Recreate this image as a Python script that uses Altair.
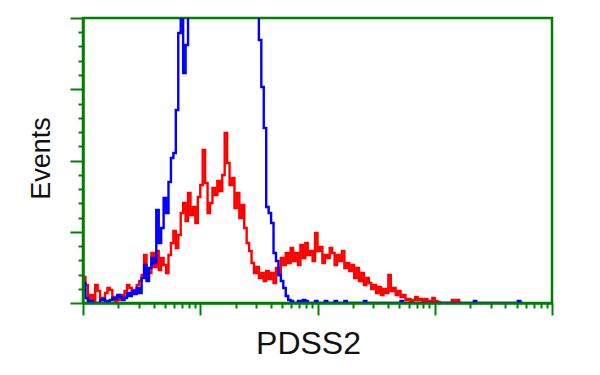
import altair as alt
import numpy as np
import pandas as pd

# Histogram: 192 channels spread over 4 log decades (1 .. 10^4)
N_BINS = 192
DECADES = 4
Y_MAX = 285

# Event counts per channel (stained sample, red)
red_counts = [
    26, 18, 4, 8, 0, 18, 12, 5, 3, 10,
    15, 13, 6, 2, 3, 8, 5, 12, 18, 15,
    13, 10, 18, 22, 28, 48, 25, 30, 50, 36,
    52, 33, 45, 38, 30, 48, 60, 72, 55, 68,
    90, 100, 82, 110, 88, 96, 80, 106, 118, 153,
    120, 90, 100, 115, 108, 122, 112, 128, 170, 140,
    118, 125, 95, 110, 85, 98, 75, 60, 52, 40,
    30, 36, 25, 30, 22, 32, 24, 30, 20, 35,
    28, 45, 38, 50, 40, 55, 42, 50, 38, 58,
    45, 60, 48, 52, 42, 70, 52, 56, 40, 48,
    45, 55, 50, 38, 48, 42, 52, 35, 40, 32,
    38, 25, 35, 22, 30, 18, 25, 20, 14, 18,
    10, 16, 8, 14, 10, 28, 12, 15, 8, 12,
    6, 8, 3, 4, 2, 3, 6, 3, 4, 2,
    4, 0, 2, 5, 2, 1, 0, 0, 0, 0,
    0, 3, 0, 3, 0,
]

# Event counts per channel (control, blue); the main peak runs off the top
blue_counts = [
    20, 5, 0, 2, 0, 0, 0, 3, 4, 2,
    0, 3, 5, 4, 8, 6, 3, 5, 10, 7,
    12, 9, 15, 10, 25, 38, 22, 35, 45, 40,
    93, 60, 75, 105, 90, 121, 145, 150, 193, 270,
    300, 230, 258, 330, 380, 430, 480, 530, 580, 620,
    660, 690, 710, 720, 725, 720, 710, 690, 665, 635,
    600, 560, 520, 480, 440, 400, 370, 345, 325, 310,
    300, 292, 263, 216, 175, 96, 90, 80, 50, 42,
    28, 22, 15, 7, 3, 2, 0, 0, 2, 0,
    3, 2, 0, 0, 0, 2, 0, 0, 0, 2,
    0, 0, 0, 2, 0, 0, 0, 2, 0, 0,
    0, 0, 0, 0, 0, 2, 0, 0, 0, 0,
    0, 0, 0, 0, 0, 0, 0, 0, 0, 0,
    2, 0, 0, 0, 0, 0, 0, 0, 0, 0,
    0, 0, 0, 0, 0, 0, 0, 0, 0, 0,
    0, 0, 0, 0, 0, 0, 0, 0, 0, 0,
    2, 0, 0, 0, 0, 0, 0, 0, 0, 0,
    0, 0, 0, 0, 0, 0, 0, 0, 2, 0,
]

x_title = "PDSS2"
y_title = "Events"
GREEN = "#008000"


def frame(counts, name):
    n = len(counts)
    edges = 10 ** (np.arange(n + 1) * DECADES / N_BINS)
    vals = list(counts) + [counts[-1]]
    return pd.DataFrame({"x": edges, "y": vals, "series": name, "order": np.arange(n + 1)})


df = pd.concat([frame(red_counts, "sample"), frame(blue_counts, "control")], ignore_index=True)

x_ticks = [m * 10 ** d for d in range(DECADES) for m in range(1, 10)] + [10 ** DECADES]
y_ticks = list(np.arange(0, Y_MAX + 0.001, Y_MAX / 20))

x_axis = alt.Axis(
    values=x_ticks, labels=False, grid=False, zindex=1,
    domainColor=GREEN, domainWidth=2.5, tickColor=GREEN, tickWidth=2,
    tickSize={"condition": {"test": "abs(log(datum.value)/LN10 - round(log(datum.value)/LN10)) < 0.001", "value": 12}, "value": 5},
    title=x_title, titleFont="Liberation Sans", titleFontSize=32, titleFontWeight="normal",
    titleColor="#111111", titleAlign="center", titleBaseline="middle", titleX=225, titleY=40,
)
y_axis = alt.Axis(
    values=y_ticks, labels=False, grid=False, zindex=1,
    domainColor=GREEN, domainWidth=2.5, tickColor=GREEN, tickWidth=2,
    tickSize={"condition": {"test": "abs(datum.value/71.25 - round(datum.value/71.25)) < 0.01", "value": 13}, "value": 5},
    title=y_title, titleFont="Liberation Sans", titleFontSize=27, titleFontWeight="normal",
    titleColor="#111111", titleAlign="center", titleBaseline="middle", titleAngle=270,
    titleX=-42, titleY=140,
)

base = alt.Chart(df).mark_line(interpolate="step-after", strokeWidth=2.4, clip=True).encode(
    x=alt.X("x:Q", scale=alt.Scale(type="log", domain=[1, 10 ** DECADES], nice=False), axis=x_axis),
    y=alt.Y("y:Q", scale=alt.Scale(domain=[0, Y_MAX], nice=False), axis=y_axis),
    order="order:Q",
)

red = base.transform_filter(alt.datum.series == "sample").encode(color=alt.value("#FF0000"))
blue = base.transform_filter(alt.datum.series == "control").encode(color=alt.value("#0000FF"))

chart = alt.layer(red, blue).properties(
    width=469, height=285,
    background="white",
    autosize=alt.AutoSizeParams(type="none"),
    padding={"left": 83, "top": 18, "right": 48, "bottom": 72},
).configure_view(stroke=GREEN, strokeWidth=2.5, strokeOpacity=1)

chart.save("out.html", embed_options={"renderer": "svg", "actions": False})
